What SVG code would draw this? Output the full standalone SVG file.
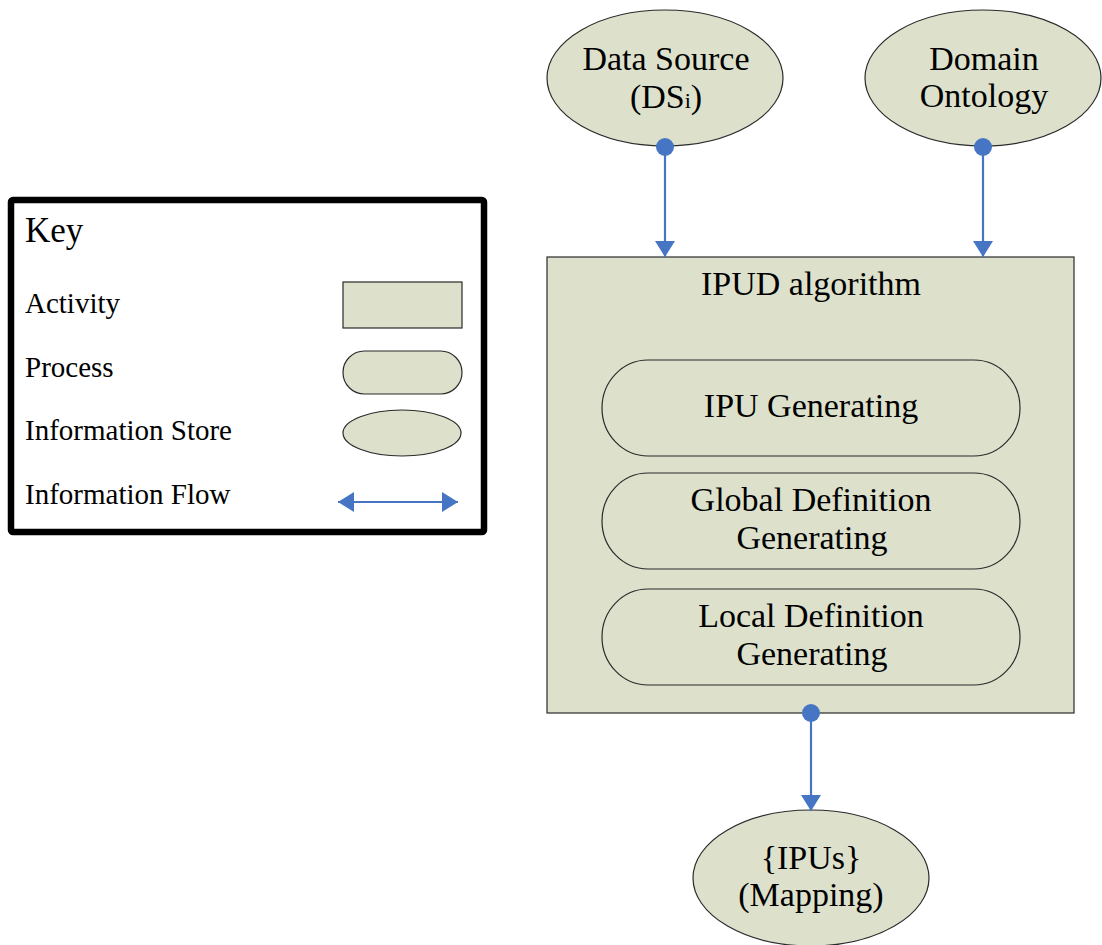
<svg xmlns="http://www.w3.org/2000/svg" width="1102" height="945" viewBox="0 0 1102 945">
<style>
.shape{fill:#dde1cc;stroke:#2a2a2a;stroke-width:1.2}
.t{fill:#000;text-anchor:middle}
.k{fill:#000}
.flow{stroke:#4676c3;stroke-width:2.2;fill:none}
.dot{fill:#4676c3}
</style>
<defs>
<marker id="ah" viewBox="0 0 16 20" refX="16" refY="10" markerWidth="16" markerHeight="20" markerUnits="userSpaceOnUse" orient="auto-start-reverse">
<path d="M0,0 L16,10 L0,20 Z" fill="#4676c3"/>
</marker>
</defs>
<rect width="1102" height="945" fill="#fff"/>

<g id="key" font-family="Liberation Serif, serif" font-size="29">
<rect x="11" y="200" width="473" height="332" fill="#fff" stroke="#000" stroke-width="6.5" rx="2"/>
<text class="k" x="25" y="242" font-size="35">Key</text>
<text class="k" x="25" y="313">Activity</text>
<text class="k" x="25" y="377">Process</text>
<text class="k" x="25" y="440">Information Store</text>
<text class="k" x="25" y="504">Information Flow</text>
<rect class="shape" x="343" y="282" width="119" height="46"/>
<rect class="shape" x="343" y="351" width="119" height="43" rx="21.5"/>
<ellipse class="shape" cx="402" cy="433" rx="59" ry="23"/>
<line class="flow" x1="338" y1="502" x2="458" y2="502" marker-start="url(#ah)" marker-end="url(#ah)"/>
</g>

<g id="data-source" font-family="Liberation Serif, serif" font-size="34">
<ellipse class="shape" cx="665" cy="78" rx="118" ry="68"/>
<text class="t" x="666" y="70">Data Source</text>
<text class="t" x="666" y="108">(DS<tspan font-size="22">i</tspan>)</text>
</g>

<g id="domain-ontology" font-family="Liberation Serif, serif" font-size="34">
<ellipse class="shape" cx="983" cy="78" rx="118" ry="68"/>
<text class="t" x="984" y="70">Domain</text>
<text class="t" x="984" y="107">Ontology</text>
</g>

<g id="ipud" font-family="Liberation Serif, serif" font-size="34">
<rect class="shape" x="547" y="257" width="527" height="456"/>
<text class="t" x="811" y="295">IPUD algorithm</text>
</g>

<g id="ipu-generating" font-family="Liberation Serif, serif" font-size="34">
<rect class="shape" x="602" y="360" width="418" height="96" rx="46" ry="48"/>
<text class="t" x="811" y="417">IPU Generating</text>
</g>

<g id="global-definition" font-family="Liberation Serif, serif" font-size="34">
<rect class="shape" x="602" y="473" width="418" height="96" rx="46" ry="48"/>
<text class="t" x="811" y="511">Global Definition</text>
<text class="t" x="812" y="549">Generating</text>
</g>

<g id="local-definition" font-family="Liberation Serif, serif" font-size="34">
<rect class="shape" x="602" y="589" width="418" height="96" rx="46" ry="48"/>
<text class="t" x="811" y="627">Local Definition</text>
<text class="t" x="812" y="665">Generating</text>
</g>

<g id="ipus" font-family="Liberation Serif, serif" font-size="34">
<ellipse class="shape" cx="811" cy="878" rx="118" ry="68"/>
<text class="t" x="811" y="869">{IPUs}</text>
<text class="t" x="811" y="906">(Mapping)</text>
</g>

<g id="connectors">
<line class="flow" x1="665" y1="147" x2="665" y2="257" marker-end="url(#ah)"/>
<circle class="dot" cx="665" cy="147" r="9"/>
<line class="flow" x1="983" y1="147" x2="983" y2="257" marker-end="url(#ah)"/>
<circle class="dot" cx="983" cy="147" r="9"/>
<line class="flow" x1="811" y1="713" x2="811" y2="811" marker-end="url(#ah)"/>
<circle class="dot" cx="811" cy="713" r="9"/>
</g>
</svg>
